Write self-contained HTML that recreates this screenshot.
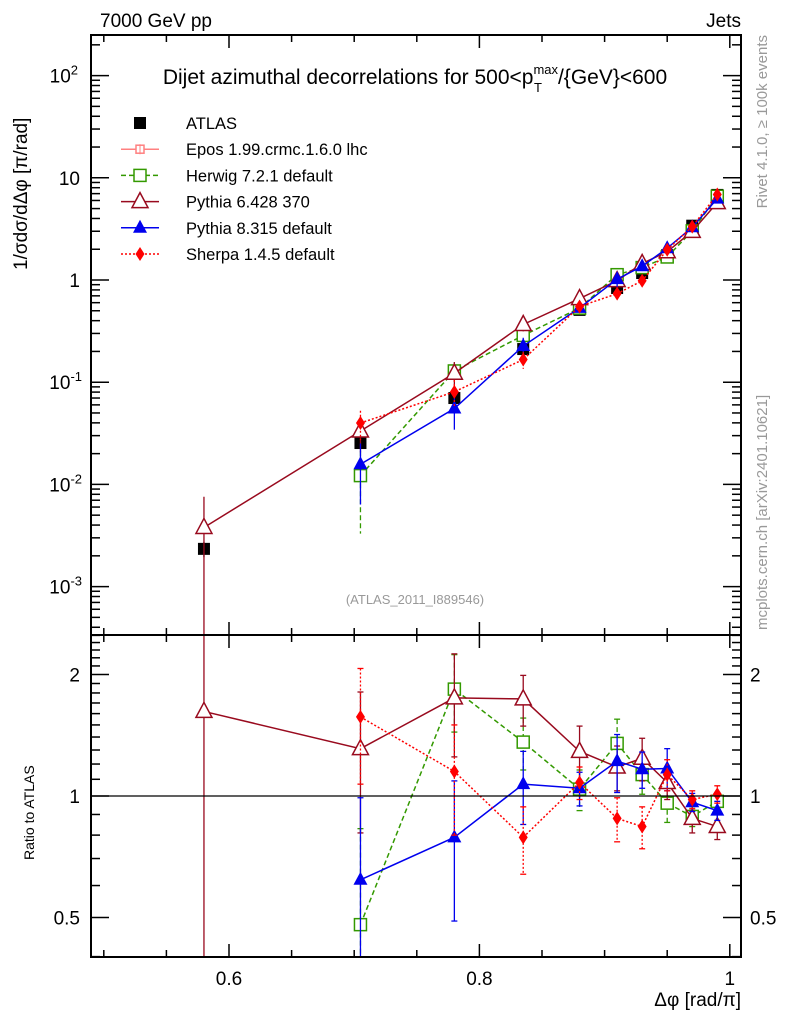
<!DOCTYPE html>
<html><head><meta charset="utf-8"><style>
html,body{margin:0;padding:0;background:#fff;overflow:hidden;width:786px;height:1024px;}
svg{display:block;font-family:"Liberation Sans",sans-serif;}
</style></head><body>
<svg id="chart" width="786" height="1024" viewBox="0 0 786 1024" xmlns="http://www.w3.org/2000/svg">
<text x="100" y="27" font-size="19">7000 GeV pp</text>
<text x="741" y="27" font-size="19" text-anchor="end">Jets</text>
<text transform="translate(767,35) rotate(-90)" font-size="15" fill="#999" text-anchor="end">Rivet 4.1.0, ≥ 100k events</text>
<text transform="translate(767,630) rotate(-90)" font-size="15" fill="#999">mcplots.cern.ch [arXiv:2401.10621]</text>
<text transform="translate(27,270) rotate(-90)" font-size="19">1/σdσ/dΔφ [π/rad]</text>
<text transform="translate(34,860) rotate(-90)" font-size="14">Ratio to ATLAS</text>
<text x="741" y="1006" font-size="19" text-anchor="end">Δφ [rad/π]</text>
<text x="415" y="84" font-size="21" text-anchor="middle">Dijet azimuthal decorrelations for 500&lt;p<tspan font-size="13" dy="-10">max</tspan><tspan font-size="13" dx="-24" dy="18">T</tspan><tspan dy="-8" dx="16">/{GeV}&lt;600</tspan></text>
<text x="415" y="604" font-size="13" fill="#999" text-anchor="middle">(ATLAS_2011_I889546)</text>
<g id="marks"></g>
<g id="axes"></g>
<g id="legend"></g>
</svg>
<script>
const xVals=[0.58,0.705,0.78,0.835,0.88,0.91,0.93,0.95,0.97,0.99];
const atlas=[0.00234,0.0254,0.070,0.211,0.51,0.835,1.17,1.75,3.4,6.8];
const atlasErr=[0.0004,0.003,0.008,0.02,0.04,0.06,0.08,0.1,0.15,0.25];
const herwigR=[null,0.48,1.84,1.36,1.04,1.35,1.13,0.96,0.89,0.97];
const herwigE=[null,0.35,0.4,0.2,0.12,0.2,0.12,0.1,0.05,0.05];
const py6R=[1.62,1.31,1.75,1.74,1.29,1.18,1.24,1.08,0.88,0.84];
const py6E=[1.62,0.5,0.5,0.25,0.2,0.15,0.15,0.1,0.07,0.06];
const py8R=[null,0.62,0.79,1.07,1.045,1.22,1.165,1.17,0.965,0.92];
const py8E=[null,0.37,0.3,0.22,0.1,0.2,0.12,0.14,0.05,0.05];
const sherpaR=[null,1.57,1.15,0.79,1.08,0.88,0.84,1.13,0.98,1.01];
const sherpaE=[null,0.5,0.35,0.15,0.1,0.11,0.1,0.1,0.05,0.05];
const xTicks=[0.6,0.8,1.0];
const xTickLabels=['0.6','0.8','1'];
const yTicks=[2,1,0,-1,-2,-3];
const rTicks=[2,1,0.5];
const rTickLabels=['2','1','0.5'];

const L=91,R=741,T=35,M=635,B=957;
const clamp=(v,a,b)=>Math.min(b,Math.max(a,v));
const X=v=>229+(v-0.6)*1252;
const Y=v=>280-102.2*Math.log10(v);
const YR=v=>796-121.5*Math.log2(v);
const YC=v=>clamp(Y(v),T,M);
const YRC=v=>clamp(YR(v),M,B);
const NS="http://www.w3.org/2000/svg";
function mk(tag,attrs,parent){const e=document.createElementNS(NS,tag);for(const k in attrs)e.setAttribute(k,attrs[k]);parent.appendChild(e);return e;}
const marks=document.getElementById('marks'),axes=document.getElementById('axes'),leg=document.getElementById('legend');

const defs=mk('defs',{},marks);
const c1=mk('clipPath',{id:'cm'},defs);mk('rect',{x:L,y:T,width:R-L,height:M-T},c1);
const c2=mk('clipPath',{id:'cr'},defs);mk('rect',{x:L,y:M,width:R-L,height:B-M},c2);
const gm=mk('g',{'clip-path':'url(#cm)'},marks);
const gr=mk('g',{'clip-path':'url(#cr)'},marks);

function marker(type,x,y,col,g){
 let e;
 if(type==='sq'){e=mk('rect',{x:x-6,y:y-6,width:12,height:12,fill:col},g);}
 else if(type==='osq'){e=mk('rect',{x:x-6,y:y-6,width:12,height:12,fill:'#fff',stroke:col,'stroke-width':1.5},g);}
 else if(type==='otri'){e=mk('polygon',{points:`${x},${y-9} ${x-8},${y+6} ${x+8},${y+6}`,fill:'#fff',stroke:col,'stroke-width':1.5},g);}
 else if(type==='tri'){e=mk('polygon',{points:`${x},${y-8} ${x-7},${y+5} ${x+7},${y+5}`,fill:col},g);}
 else if(type==='dia'){e=mk('polygon',{points:`${x},${y-7} ${x-4.5},${y} ${x},${y+7} ${x+4.5},${y}`,fill:col},g);}
 else if(type==='cross'){e=mk('g',{},g);mk('rect',{x:x-4,y:y-4,width:8,height:8,fill:'#fff',stroke:col,'stroke-width':1.5},e);mk('line',{x1:x,y1:y-5,x2:x,y2:y+5,stroke:col},e);}
 return e;
}

const series=[
 {name:'herwig',r:herwigR,e:herwigE,col:'#339900',dash:'5,3',m:'osq'},
 {name:'pythia6',r:py6R,e:py6E,col:'#990a1e',dash:'',m:'otri'},
 {name:'pythia8',r:py8R,e:py8E,col:'#0000ee',dash:'',m:'tri'},
 {name:'sherpa',r:sherpaR,e:sherpaE,col:'#ff0000',dash:'2,2',m:'dia'}
];

xVals.forEach((v,i)=>{
 const eb=mk('line',{x1:X(v),x2:X(v),y1:YC(atlas[i]+atlasErr[i]),y2:YC(Math.max(atlas[i]-atlasErr[i],1e-6)),stroke:'#000','stroke-width':1.3},gm);
 
 
 const m=marker('sq',X(v),Y(atlas[i]),'#000',gm);
 
 
});

series.forEach(s=>{
 const pm=[],pr=[];
 xVals.forEach((v,i)=>{ if(s.r[i]==null)return;
  const val=atlas[i]*s.r[i];
  pm.push(`${X(v)},${Y(val)}`);pr.push(`${X(v)},${YR(s.r[i])}`);
 });
 const lm=mk('polyline',{points:pm.join(' '),fill:'none',stroke:s.col,'stroke-width':1.5,'stroke-dasharray':s.dash},gm);
 
 
 const lr=mk('polyline',{points:pr.join(' '),fill:'none',stroke:s.col,'stroke-width':1.5,'stroke-dasharray':s.dash},gr);
 
 
 xVals.forEach((v,i)=>{ if(s.r[i]==null)return;
  const x=X(v),lo=Math.max(s.r[i]-s.e[i],0.01),hi=s.r[i]+s.e[i];
  const e1=mk('line',{x1:x,x2:x,y1:YC(atlas[i]*hi),y2:YC(atlas[i]*lo),stroke:s.col,'stroke-width':1.3,'stroke-dasharray':s.dash},gm);
  
  
  const e2=mk('line',{x1:x,x2:x,y1:YRC(hi),y2:YRC(lo),stroke:s.col,'stroke-width':1.3,'stroke-dasharray':s.dash},gr);
  
  
  [YR(hi),YR(lo)].forEach(yy=>{ if(yy>M&&yy<B) mk('line',{x1:x-3,x2:x+3,y1:yy,y2:yy,stroke:s.col,'stroke-width':1.3},gr);});
  const m1=marker(s.m,x,Y(atlas[i]*s.r[i]),s.col,gm);
  
  
  const m2=marker(s.m,x,YR(s.r[i]),s.col,gr);
  
  
 });
});

const ul=mk('line',{x1:L,x2:R,y1:YR(1),y2:YR(1),stroke:'#000','stroke-width':1.2},axes);



const f1=mk('rect',{x:L,y:T,width:R-L,height:M-T,fill:'none',stroke:'#000','stroke-width':2},axes);


const f2=mk('rect',{x:L,y:M,width:R-L,height:B-M,fill:'none',stroke:'#000','stroke-width':2},axes);



function tk(x1,y1,x2,y2){mk('line',{x1,y1,x2,y2,stroke:'#000','stroke-width':1.5},axes);}
for(let v=0.5;v<=1.0001;v+=0.05){
 const x=X(v),major=Math.abs(v*10-Math.round(v*10))<1e-6&&Math.round(v*10)%2===0;
 const len=major?13:7;
 [T,M].forEach(y=>tk(x,y,x,y+len));
 [M,B].forEach(y=>tk(x,y,x,y-len));
}
xTicks.forEach((v,i)=>{
 const t=mk('text',{x:X(v),y:985,'font-size':19,'text-anchor':'middle'},axes);
 t.textContent=xTickLabels[i];
 
 
});
for(let d=-4;d<=2;d++){
 for(let k=1;k<10;k++){
  const y=Y(k*Math.pow(10,d)); if(y<T||y>M)continue;
  const len=k===1?18:9;
  tk(L,y,L+len,y);tk(R,y,R-len,y);
 }
}
yTicks.forEach(d=>{
 const y=Y(Math.pow(10,d));
 const t=mk('text',{x:80,y:y+7,'font-size':19,'text-anchor':'end'},axes);
 
 
 if(d===0)t.textContent='1';
 else if(d===1)t.textContent='10';
 else{t.textContent='10';const s=mk('tspan',{'font-size':13,dy:-8},t);s.textContent=String(d);t.setAttribute('x',d<0?82:78);}
});
[0.4,0.5,0.6,0.7,0.8,0.9,1,1.1,1.2,1.3,1.4,1.5,1.6,1.7,1.8,1.9,2,2.1,2.2,2.3,2.4,2.5].forEach(v=>{
 const y=YR(v); if(y<M||y>B)return;
 const len=(v===0.5||v===1||v===2)?18:9;
 tk(L,y,L+len,y);tk(R,y,R-len,y);
});
rTicks.forEach((v,i)=>{
 const y=YR(v);
 const a=mk('text',{x:80,y:y+7,'font-size':19,'text-anchor':'end'},axes);
 a.textContent=rTickLabels[i];
 
 
 const b=mk('text',{x:750,y:y+7,'font-size':19},axes);
 b.textContent=rTickLabels[i];
 
 
});

const legItems=[
 {label:'ATLAS',m:'sq',col:'#000',line:false,dash:''},
 {label:'Epos 1.99.crmc.1.6.0 lhc',m:'cross',col:'#ff8080',line:true,dash:''},
 {label:'Herwig 7.2.1 default',m:'osq',col:'#339900',line:true,dash:'5,3'},
 {label:'Pythia 6.428 370',m:'otri',col:'#990a1e',line:true,dash:''},
 {label:'Pythia 8.315 default',m:'tri',col:'#0000ee',line:true,dash:''},
 {label:'Sherpa 1.4.5 default',m:'dia',col:'#ff0000',line:true,dash:'2,2'}
];
legItems.forEach((it,i)=>{
 const y=123+i*26.2;
 const g=mk('g',{},leg);
 
 
 if(it.line)mk('line',{x1:121,x2:159,y1:y,y2:y,stroke:it.col,'stroke-width':1.5,'stroke-dasharray':it.dash},g);
 marker(it.m,140,y,it.col,g);
 const t=mk('text',{x:186,y:y+6,'font-size':16.5},g);
 t.textContent=it.label;
});
</script>
</body></html>
